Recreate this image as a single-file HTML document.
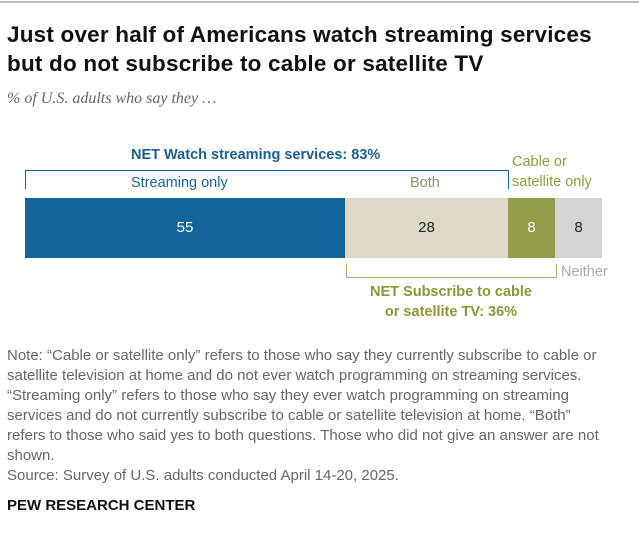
<!DOCTYPE html>
<html><head><meta charset="utf-8"><style>
body{margin:0;background:#fff;width:639px;height:545px;position:relative;font-family:"Liberation Sans",sans-serif;overflow:hidden}
.a{position:absolute;white-space:nowrap}
</style></head><body>
<div class="a" style="left:0;top:1px;width:639px;height:2px;background:#bbb"></div>
<div class="a" style="left:7px;top:20px;font-size:22.5px;font-weight:bold;color:#111;line-height:29px;letter-spacing:0.2px">Just over half of Americans watch streaming services<br>but do not subscribe to cable or satellite TV</div>
<div class="a" style="left:7px;top:90px;font-size:16px;font-style:italic;font-family:'Liberation Serif',serif;color:#666">% of U.S. adults who say they …</div>
<div class="a" style="left:131px;top:147px;font-size:14.5px;font-weight:bold;color:#1a5f8f">NET Watch streaming services: 83%</div>
<div class="a" style="left:25px;top:170px;width:482px;height:18px;border:1px solid #1a6398;border-bottom:none"></div>
<div class="a" style="left:131px;top:175px;font-size:14.5px;color:#1a6398">Streaming only</div>
<div class="a" style="left:410px;top:175px;font-size:14.5px;color:#9a8a6a">Both</div>
<div class="a" style="left:512px;top:152px;font-size:14.5px;color:#94993f;line-height:20px">Cable or<br>satellite only</div>
<div class="a" style="left:25px;top:198px;width:320px;height:60px;background:#13659a;color:#fff;font-size:15px;line-height:60px;text-align:center">55</div>
<div class="a" style="left:345px;top:198px;width:163px;height:60px;background:#ddd9c5;color:#222;font-size:15px;line-height:60px;text-align:center">28</div>
<div class="a" style="left:508px;top:198px;width:47px;height:60px;background:#959c49;color:#fff;font-size:15px;line-height:60px;text-align:center">8</div>
<div class="a" style="left:555px;top:198px;width:47px;height:60px;background:#d4d4d4;color:#222;font-size:15px;line-height:60px;text-align:center">8</div>
<div class="a" style="left:346px;top:264px;width:209px;height:13px;border:1px solid #a8ab6a;border-top:none"></div>
<div class="a" style="left:561px;top:264px;font-size:14.5px;color:#aaa">Neither</div>
<div class="a" style="left:361px;top:282px;font-size:14.5px;font-weight:bold;color:#8e9538;text-align:center;line-height:20px;width:180px">NET Subscribe to cable<br>or satellite TV: 36%</div>
<div class="a" style="left:7px;top:346px;font-size:15px;color:#666;line-height:20px">Note: “Cable or satellite only” refers to those who say they currently subscribe to cable or<br>satellite television at home and do not ever watch programming on streaming services.<br>“Streaming only” refers to those who say they ever watch programming on streaming<br>services and do not currently subscribe to cable or satellite television at home. “Both”<br>refers to those who said yes to both questions. Those who did not give an answer are not<br>shown.<br>Source: Survey of U.S. adults conducted April 14-20, 2025.</div>
<div class="a" style="left:7px;top:497px;font-size:15px;font-weight:bold;color:#111">PEW RESEARCH CENTER</div>
</body></html>
